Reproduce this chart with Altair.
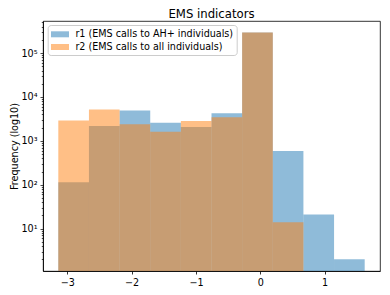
import altair as alt
import pandas as pd

# bin edges (10 equal bins)
bin_start = -3.14
bin_width = 0.4763
n_bins = 10
edges = [bin_start + i * bin_width for i in range(n_bins + 1)]

series_names = ["r1 (EMS calls to AH+ individuals)", "r2 (EMS calls to all individuals)"]
r1_counts = [114, 2170, 4920, 2590, 2060, 4280, 297000, 590, 21, 2]
r2_counts = [2920, 5190, 2380, 1620, 2820, 3470, 297000, 14, 0, 0]

x_ticks = [-3, -2, -1, 0, 1]
y_major = [10, 100, 1000, 10000, 100000]
y_minor = [m * 10 ** k for k in range(0, 6) for m in range(2, 10) if 1.08 <= m * 10 ** k <= 5.4e5]

rows = []
for name, counts in zip(series_names, [r1_counts, r2_counts]):
    for i, c in enumerate(counts):
        if c > 0:
            rows.append({"series": name, "start": edges[i], "end": edges[i + 1], "count": c})
df = pd.DataFrame(rows)

ymin, ymax = 1.08, 5.4e5
xmin, xmax = -3.378, 1.861

font = "DejaVu Sans"
fs = 9.6

major_test = "abs(log(datum.value)/LN10 - round(log(datum.value)/LN10)) < 1e-6"

chart = alt.Chart(df).mark_bar(opacity=0.5, strokeWidth=0).encode(
    x=alt.X("start:Q",
            scale=alt.Scale(domain=[xmin, xmax], nice=False, zero=False),
            axis=alt.Axis(values=x_ticks, title=None, grid=False, tickSize=3,
                          tickColor="black", tickWidth=0.8, domainColor="black",
                          domainWidth=0.8, labelColor="black", labelFont=font,
                          labelFontSize=fs, labelPadding=3,
                          labelExpr="datum.value < 0 ? '\u2212' + abs(datum.value) : '' + datum.value")),
    x2="end:Q",
    y=alt.Y("count:Q",
            scale=alt.Scale(type="log", domain=[ymin, ymax], nice=False),
            axis=alt.Axis(values=y_major + y_minor, title="Frequency (log10)", grid=False,
                          tickSize={"condition": {"test": major_test, "value": 3}, "value": 1.7},
                          tickColor="black", tickWidth=0.7, domainColor="black",
                          domainWidth=0.8, labelColor="black", labelFont=font,
                          labelFontSize=fs, labelPadding=3,
                          labelExpr="(" + major_test + ") ? '10' + ['\u2070','\u00b9','\u00b2','\u00b3','\u2074','\u2075','\u2076'][round(log(datum.value)/LN10)] : ''",
                          titleFont=font, titleFontSize=fs, titleFontWeight="normal",
                          titleColor="black", titlePadding=1)),
    y2=alt.datum(ymin),
    color=alt.Color("series:N",
                    scale=alt.Scale(domain=series_names, range=["#1f77b4", "#ff7f0e"]),
                    legend=alt.Legend(title=None, orient="none", legendX=4.7, legendY=4,
                                      symbolType="M-1,-0.5H2V0.5H-1Z", symbolSize=144,
                                      symbolOpacity=0.5, symbolStrokeWidth=0,
                                      labelFont=font, labelFontSize=fs, labelColor="black",
                                      labelLimit=400, rowPadding=1.7, padding=3.3,
                                      strokeColor="#cccccc", fillColor="white",
                                      cornerRadius=3, labelOffset=12.4)),
).properties(
    width=337,
    height=250,
    title=alt.TitleParams("EMS indicators", font=font, fontSize=11.7, fontWeight="normal",
                          color="black", anchor="middle", offset=0),
    autosize=alt.AutoSizeParams(type="none"),
    padding={"left": 35, "top": 13, "right": 2, "bottom": 16},
).configure_view(stroke="black", strokeWidth=0.8)

chart.save("out.html", embed_options={"renderer": "svg", "actions": False})
